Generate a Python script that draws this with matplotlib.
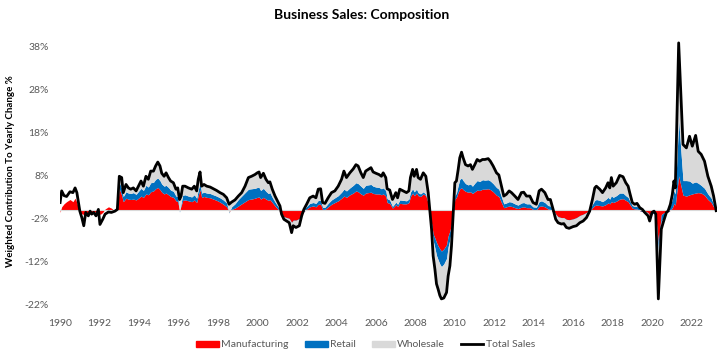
import numpy as np
import matplotlib
matplotlib.use("Agg")
import matplotlib.pyplot as plt
from matplotlib.patches import Patch
from matplotlib.lines import Line2D

plt.rcParams["font.family"] = ["Lato", "DejaVu Sans"]

nan = float("nan")

# decimal years
dates = [
    1990.00, 1990.08, 1990.20, 1990.33, 1990.50, 1990.65, 1990.76, 1990.85, 1990.93,
    1991.00, 1991.10, 1991.20, 1991.30, 1991.43, 1991.52, 1991.60, 1991.70, 1991.82, 1991.94,
    1992.02, 1992.16, 1992.28, 1992.45, 1992.60, 1992.78, 1992.90,
    1993.00, 1993.12, 1993.20, 1993.34, 1993.46, 1993.58, 1993.71, 1993.85, 1993.97,
    1994.10, 1994.22, 1994.35, 1994.47, 1994.59, 1994.73, 1994.84, 1994.95,
    1995.06, 1995.15, 1995.27, 1995.37, 1995.49, 1995.60, 1995.74, 1995.87, 1995.96,
    1996.05, 1996.13, 1996.21, 1996.33, 1996.50, 1996.67, 1996.80, 1996.92,
    1997.00, 1997.09, 1997.17, 1997.29, 1997.43, 1997.60, 1997.76, 1997.93,
    1998.10, 1998.27, 1998.44, 1998.56, 1998.69, 1998.86,
    1999.03, 1999.20, 1999.37, 1999.54, 1999.70, 1999.87, 1999.99,
    2000.08, 2000.16, 2000.30, 2000.43, 2000.55, 2000.63, 2000.75, 2000.89,
    2001.05, 2001.14, 2001.22, 2001.34, 2001.48, 2001.61, 2001.73, 2001.81, 2001.95,
    2002.12, 2002.24, 2002.35, 2002.49, 2002.65, 2002.82, 2002.96,
    2003.08, 2003.20, 2003.30, 2003.42, 2003.58, 2003.75, 2003.92,
    2004.09, 2004.26, 2004.38, 2004.51, 2004.68, 2004.85, 2004.99,
    2005.10, 2005.24, 2005.36, 2005.48, 2005.61, 2005.75, 2005.86,
    2006.00, 2006.16, 2006.28, 2006.37, 2006.50, 2006.57, 2006.70, 2006.84, 2006.93,
    2007.01, 2007.10, 2007.21, 2007.38, 2007.55, 2007.67, 2007.75, 2007.86, 2007.94,
    2008.06, 2008.14, 2008.26, 2008.40, 2008.53, 2008.65, 2008.73, 2008.82, 2008.90, 2008.99,
    2009.07, 2009.15, 2009.24, 2009.32, 2009.44, 2009.58, 2009.66, 2009.75, 2009.83, 2009.91,
    2010.00, 2010.08, 2010.17, 2010.25, 2010.34, 2010.42, 2010.54, 2010.67, 2010.79, 2010.89,
    2011.01, 2011.13, 2011.26, 2011.40, 2011.52, 2011.69, 2011.80, 2011.94,
    2012.11, 2012.23, 2012.36, 2012.48, 2012.61, 2012.75, 2012.87,
    2013.04, 2013.20, 2013.37, 2013.49, 2013.63, 2013.80, 2013.96,
    2014.13, 2014.27, 2014.39, 2014.56, 2014.72, 2014.84, 2014.98,
    2015.11, 2015.23, 2015.40, 2015.52, 2015.65, 2015.79, 2015.99,
    2016.16, 2016.33, 2016.50, 2016.67, 2016.83, 2016.97,
    2017.09, 2017.17, 2017.34, 2017.48, 2017.64, 2017.76, 2017.85, 2017.93,
    2018.02, 2018.18, 2018.35, 2018.52, 2018.66, 2018.78, 2018.86, 2018.99,
    2019.11, 2019.23, 2019.37, 2019.50, 2019.62, 2019.79, 2019.87, 2019.99,
    2020.09, 2020.18, 2020.31, 2020.46, 2020.58, 2020.72, 2020.80, 2020.92,
    2021.02, 2021.10, 2021.17, 2021.34, 2021.56, 2021.73, 2021.89,
    2022.03, 2022.20, 2022.33, 2022.48, 2022.65, 2022.82, 2022.99,
    2023.11, 2023.24,
]

total_sales = [
    1.8, 4.5, 3.4, 3.2, 4.3, 4.1, 5.2, 4.1, 1.8,
    -0.2, -1.7, -3.6, -0.5, -1.3, -0.2, -0.9, -0.5, -1.3, 0.2,
    -3.3, -2.1, -0.9, -0.4, -0.5, -0.2, 0.2,
    7.9, 7.6, 4.1, 6.0, 5.2, 4.9, 5.2, 4.5, 5.6,
    6.8, 5.6, 7.9, 7.2, 9.1, 9.1, 10.3, 11.2,
    10.3, 8.6, 7.9, 8.7, 7.6, 6.8, 6.4, 4.9, 5.2,
    2.5, 3.3, 5.6, 5.6, 5.2, 4.9, 5.6, 4.5,
    7.2, 8.9, 5.6, 6.0, 5.6, 5.4, 5.0, 4.6,
    4.1, 3.7, 2.9, 1.4, 1.9, 2.4,
    3.3, 4.1, 5.6, 7.6, 7.9, 8.3, 8.7,
    8.9, 7.6, 8.6, 7.2, 6.4, 6.6, 4.9, 3.3,
    1.8, 1.0, -0.9, -2.1, -2.5, -2.9, -5.2, -3.6, -4.0,
    -3.6, -1.3, 0.2, 1.4, 2.9, 3.3, 2.9,
    4.9, 5.0, 1.8, 1.6, 2.9, 4.1, 4.5,
    5.6, 7.2, 9.1, 7.6, 8.7, 9.6, 10.6,
    10.3, 8.7, 7.6, 9.1, 9.5, 9.9, 8.9,
    8.6, 8.3, 7.9, 8.7, 7.6, 5.0, 4.7, 2.5, 3.3,
    4.1, 2.9, 4.9, 4.5, 4.1, 4.5, 7.6, 9.5, 7.9,
    9.5, 7.6, 7.2, 8.7, 7.9, 4.1, 0.2, -4.4, -10.6, -13.7,
    -17.1, -18.3, -19.8, -20.6, -20.4, -19.1, -15.3, -12.9, -8.3, -1.3,
    6.4, 6.8, 9.5, 12.2, 13.5, 12.2, 10.6, 10.3, 10.6, 9.5,
    10.6, 11.8, 11.4, 11.8, 11.8, 12.0, 11.4, 10.3,
    8.7, 8.2, 5.6, 3.3, 3.7, 4.5, 4.1,
    3.3, 2.5, 4.1, 4.2, 3.3, 3.3, 1.8,
    1.4, 4.5, 4.9, 4.1, 2.5, 2.5, 0.2,
    -2.1, -2.9, -3.2, -3.1, -4.0, -4.2, -3.8,
    -3.6, -2.9, -2.5, -1.7, -0.2, 2.5,
    5.2, 5.6, 4.9, 4.1, 5.2, 6.4, 5.2, 7.6,
    5.6, 6.4, 8.1, 7.8, 6.4, 5.6, 4.1, 1.8,
    1.4, 1.6, 0.6, 0.2, -0.5, -1.3, -2.5, -0.5,
    -0.2, -0.9, -20.6, -4.4, -2.5, -0.5, -0.2, 1.4,
    3.7, 6.8, 5.2, 38.9, 15.3, 14.5, 17.2,
    14.9, 17.4, 13.7, 13.0, 11.4, 7.9, 5.6,
    3.3, -0.1,
]

manufacturing = [
    -0.5, 0.8, 1.5, 2.0, 2.5, 2.0, 2.8, 1.8, 0.5,
    -0.3, -0.8, -1.0, -0.5, -0.6, -0.3, -0.4, -0.3, -0.5, 0.2,
    -1.0, -0.5, 0.3, 0.8, 0.5, -0.2, 0.2,
    5.0, 3.5, 2.0, 2.8, 2.6, 2.5, 2.6, 2.4, 2.8,
    3.3, 3.0, 3.8, 3.6, 4.3, 4.5, 5.0, 5.3,
    4.8, 4.2, 3.8, 4.0, 3.6, 3.2, 3.0, 2.2, 2.0,
    0.0, 1.0, 2.3, 2.4, 2.2, 2.0, 2.4, 1.8,
    3.5, 4.8, 3.0, 3.2, 3.0, 2.9, 2.6, 2.3,
    1.9, 1.4, 0.8, -0.3, 0.2, 0.5,
    1.0, 1.5, 2.0, 2.5, 2.6, 2.8, 3.0,
    3.1, 2.6, 3.0, 2.6, 2.3, 2.5, 1.8, 1.0,
    0.2, -0.3, -1.0, -1.8, -2.0, -2.2, -3.0, -2.6, -2.6,
    -2.2, -1.0, -0.3, 0.3, 0.8, 1.0, 0.8,
    1.4, 1.4, 0.2, 0.2, 0.8, 1.4, 1.8,
    2.2, 2.8, 3.3, 3.0, 3.6, 4.0, 4.5,
    4.3, 3.8, 3.5, 4.0, 4.1, 4.2, 3.9,
    3.8, 3.8, 3.6, 3.8, 3.3, 1.8, 1.6, 0.5, 0.9,
    1.3, 0.9, 1.6, 1.5, 1.5, 1.8, 3.2, 4.0, 3.4,
    4.0, 3.4, 3.2, 3.8, 3.4, 1.6, -0.4, -3.0, -5.5, -6.5,
    -7.5, -8.3, -9.0, -9.5, -9.0, -8.0, -6.0, -4.8, -3.2, -0.5,
    2.6, 3.0, 4.2, 5.0, 5.2, 4.8, 4.4, 4.2, 4.3, 3.9,
    4.3, 4.7, 4.6, 4.9, 4.9, 5.0, 4.8, 4.3,
    3.5, 3.2, 1.8, 0.6, 0.8, 1.0, 0.9,
    0.6, 0.4, 0.7, 0.8, 0.6, 0.6, 0.2,
    0.1, 0.9, 1.0, 0.8, 0.3, 0.2, -0.4,
    -1.3, -1.8, -2.0, -2.0, -2.3, -2.4, -2.2,
    -2.0, -1.5, -1.2, -0.8, -0.3, 0.6,
    1.1, 1.2, 1.1, 1.0, 1.3, 1.7, 1.5, 2.0,
    1.8, 2.1, 2.6, 2.7, 2.3, 2.0, 1.4, 0.5,
    0.3, 0.3, -0.1, -0.3, -0.6, -1.0, -1.5, -0.8,
    -0.7, -1.2, -7.5, -1.0, -0.6, -0.4, -0.3, 0.0,
    0.6, 1.6, 1.2, 8.0, 3.5, 3.3, 3.6,
    3.8, 4.0, 4.1, 4.0, 3.5, 2.5, 1.8,
    0.8, 0.0,
]

retail = [nan] * 26 + [
    1.5, 1.6, 1.2, 1.5, 1.4, 1.4, 1.5, 1.3, 1.6,
    1.8, 1.6, 2.0, 1.8, 2.1, 2.0, 2.2, 2.2,
    2.1, 1.9, 1.8, 1.8, 1.7, 1.5, 1.4, 1.1, 1.2,
    -0.4, 0.6, 1.2, 1.2, 1.1, 1.1, 1.2, 1.0,
    1.3, 1.4, 1.0, 1.0, 1.0, 1.0, 1.0, 1.0,
    1.0, 1.0, 0.9, -0.3, 0.6, 1.0,
    1.5, 1.8, 2.1, 2.4, 2.4, 2.3, 2.3,
    2.2, 2.0, 2.1, 1.8, 1.6, 1.6, 1.2, 0.9,
    0.6, 0.5, 0.3, 0.3, 0.3, 0.3, 0.2, 0.3, 0.3,
    0.3, 0.4, 0.5, 0.6, 0.8, 0.8, 0.8,
    0.9, 0.9, 0.5, 0.5, 0.8, 1.0, 1.1,
    1.2, 1.4, 1.6, 1.5, 1.6, 1.8, 1.9,
    1.9, 1.8, 1.6, 1.8, 1.8, 1.8, 1.7,
    1.6, 1.5, 1.4, 1.4, 1.3, 0.9, 0.8, 0.4, 0.5,
    0.6, 0.5, 0.8, 0.8, 0.7, 0.8, 1.0, 1.0, 0.9,
    0.9, 0.7, 0.6, 0.5, 0.3, 0.0, -0.4, -0.8, -1.5, -2.3,
    -3.0, -3.2, -3.5, -3.6, -3.5, -3.2, -2.5, -2.0, -1.3, -0.3,
    0.8, 1.0, 1.6, 2.2, 2.3, 2.1, 1.8, 1.7, 1.8, 1.7,
    2.0, 2.2, 2.1, 2.2, 2.1, 2.1, 2.0, 1.9,
    1.8, 1.7, 1.3, 0.9, 0.9, 1.0, 1.0,
    0.9, 0.8, 1.0, 1.0, 0.9, 0.9, 0.6,
    0.6, 1.1, 1.2, 1.0, 0.8, 0.8, 0.6,
    0.4, 0.3, 0.3, 0.3, 0.2, 0.2, 0.2,
    0.3, 0.3, 0.3, 0.3, 0.4, 0.8,
    1.2, 1.3, 1.2, 1.0, 1.2, 1.3, 1.1, 1.4,
    1.2, 1.3, 1.4, 1.3, 1.1, 1.0, 0.8, 0.6,
    0.6, 0.6, 0.5, 0.5, 0.5, 0.4, 0.3, 0.5,
    0.6, 0.3, -2.0, -1.5, -1.0, 0.4, 0.6, 1.2,
    2.0, 3.0, 2.6, 13.0, 3.4, 3.6, 3.2,
    2.5, 2.6, 2.2, 1.8, 1.6, 1.3, 1.0,
    0.6, 0.0,
]

wholesale = [nan] * 26 + [
    1.4, 2.5, 0.9, 1.7, 1.2, 1.0, 1.1, 0.8, 1.2,
    1.7, 1.0, 2.1, 1.8, 2.7, 2.6, 3.1, 3.7,
    3.4, 2.5, 2.3, 2.9, 2.3, 2.1, 2.0, 1.6, 2.0,
    2.9, 1.7, 2.1, 2.0, 1.9, 1.8, 2.0, 1.7,
    2.4, 2.7, 1.6, 1.8, 1.6, 1.5, 1.4, 1.3,
    1.2, 1.3, 1.2, 2.0, 1.1, 0.9,
    0.8, 0.8, 1.5, 2.7, 2.9, 3.2, 3.4,
    3.6, 3.0, 3.5, 2.8, 2.5, 2.5, 1.9, 1.4,
    1.0, 0.8, -0.2, -0.6, -0.8, -1.0, -2.4, -1.3, -1.7,
    -1.7, -0.7, 0.0, 0.5, 1.3, 1.5, 1.3,
    2.6, 2.7, 1.1, 0.9, 1.3, 1.7, 1.6,
    2.2, 3.0, 4.2, 3.1, 3.5, 3.8, 4.2,
    4.1, 3.1, 2.5, 3.3, 3.6, 3.9, 3.3,
    3.2, 3.0, 2.9, 3.5, 3.0, 2.3, 2.3, 1.6, 1.9,
    2.2, 1.5, 2.5, 2.2, 1.9, 1.9, 3.4, 4.5, 3.6,
    4.6, 3.5, 3.4, 4.4, 4.2, 2.5, 1.0, -0.6, -3.6, -4.9,
    -6.6, -6.8, -7.3, -7.5, -7.9, -7.9, -6.8, -6.1, -3.8, -0.5,
    3.0, 2.8, 3.7, 5.0, 6.0, 5.3, 4.4, 4.4, 4.5, 3.9,
    4.3, 4.9, 4.7, 4.7, 4.8, 4.9, 4.6, 4.1,
    3.4, 3.3, 2.5, 1.8, 2.0, 2.5, 2.2,
    1.8, 1.3, 2.4, 2.4, 1.8, 1.8, 1.0,
    0.7, 2.5, 2.7, 2.3, 1.4, 1.5, 0.0,
    -1.2, -1.4, -1.5, -1.4, -1.9, -2.0, -1.8,
    -1.9, -1.7, -1.6, -1.2, -0.3, 1.1,
    2.9, 3.1, 2.6, 2.1, 2.7, 3.4, 2.6, 4.2,
    2.6, 3.0, 4.1, 3.8, 3.0, 2.6, 1.9, 0.7,
    0.5, 0.7, 0.2, 0.0, -0.4, -0.7, -1.3, -0.2,
    -0.1, 0.0, -11.1, -1.9, -0.9, -0.5, -0.5, 0.2,
    1.1, 2.2, 1.4, 17.9, 8.4, 7.6, 10.4,
    8.6, 10.8, 7.4, 7.2, 6.3, 4.1, 2.8,
    1.9, -0.1,
]

year_ticks = list(range(1990, 2023, 2))
pct_ticks = [-22, -12, -2, 8, 18, 28, 38]

x = np.array(dates)
m = np.array(manufacturing)
r = np.array(retail)
w = np.array(wholesale)
mr = m + r
mrw = mr + w

grey_txt = "#595959"

fig = plt.figure(figsize=(7.24, 3.6), dpi=100)
ax = fig.add_axes([0.083, 0.153, 0.907, 0.741])

ax.fill_between(x, 0, m, color="#FF0000", lw=0)
ax.fill_between(x, m, mr, color="#0070C0", lw=0)
ax.fill_between(x, mr, mrw, color="#D9D9D9", lw=0)
ax.axhline(0, color="#D9D9D9", lw=0.8, zorder=1)
ax.plot(x, total_sales, color="black", lw=2.0, zorder=5)

ax.set_xlim(1990.0, 2023.27)
ax.set_ylim(-22, 40)
ax.set_xticks(year_ticks)
ax.set_xticklabels([str(y) for y in year_ticks])
ax.set_yticks(pct_ticks)
ax.set_yticklabels([f"{v}%" for v in pct_ticks])
ax.tick_params(axis="x", length=0, pad=10, labelsize=7.5, colors=grey_txt)
ax.tick_params(axis="y", length=0, pad=8, labelsize=7.5, colors=grey_txt)
for s in ax.spines.values():
    s.set_visible(False)

ax.set_ylabel("Weighted Contribution To Yearly Change %", fontsize=7,
              fontweight="bold")
ax.yaxis.set_label_coords(-0.068, 0.5)
fig.suptitle("Business Sales: Composition", fontsize=10, fontweight="bold", y=0.975)

handles = [
    Patch(color="#FF0000"),
    Patch(color="#0070C0"),
    Patch(color="#D9D9D9"),
    Line2D([], [], color="black", lw=2),
]
labels = ["Manufacturing", "Retail", "Wholesale", "Total Sales"]
leg = fig.legend(handles, labels, loc="center", bbox_to_anchor=(0.505, 0.042), ncol=4,
                 frameon=False, fontsize=7.5, handlelength=2.2, handleheight=0.55,
                 handletextpad=0.25, columnspacing=1.5)
for t in leg.get_texts():
    t.set_color(grey_txt)

fig.savefig("out.png", dpi=100)
